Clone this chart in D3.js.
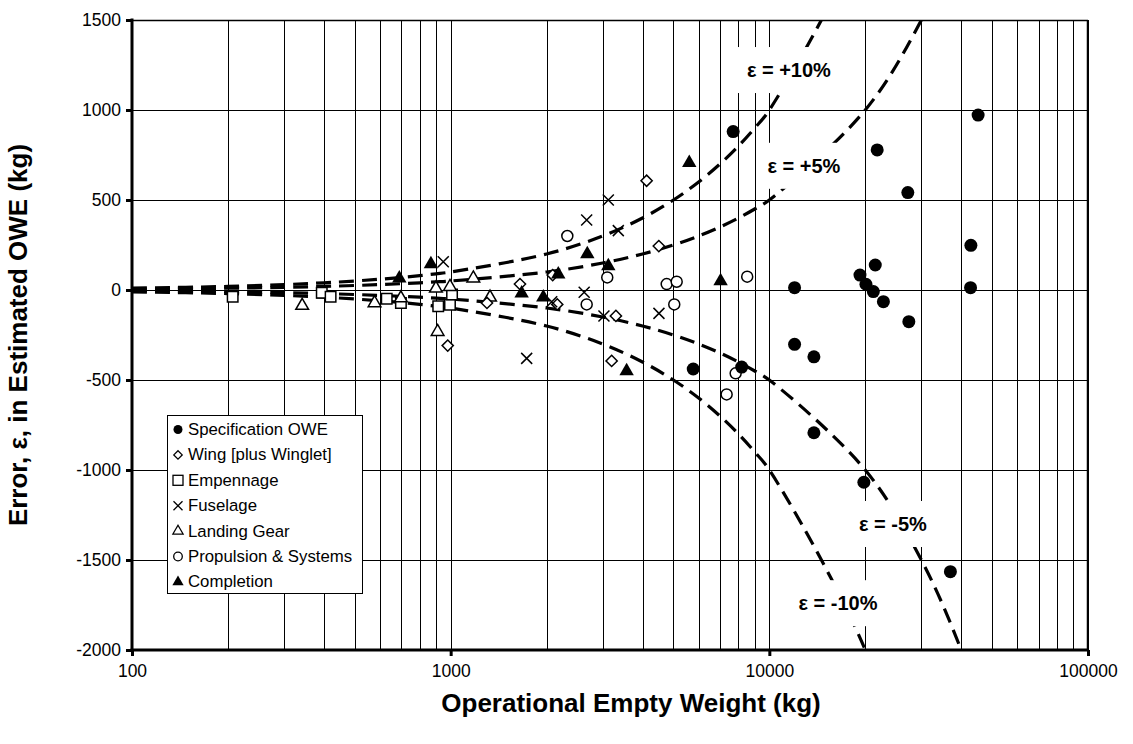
<!DOCTYPE html>
<html><head><meta charset="utf-8">
<script src="https://cdn.jsdelivr.net/npm/d3@7"></script>
<style>
body{margin:0;background:#fff;}
text{font-family:"Liberation Sans",Arial,Helvetica,sans-serif;}
</style></head>
<body><svg id="c" width="1133" height="744"></svg>
<script>
// ---- data ----
const xTicks = [100, 1000, 10000, 100000];
const xTickLabels = ["100", "1000", "10000", "100000"];
const yTicks = [-2000, -1500, -1000, -500, 0, 500, 1000, 1500];
const yTickLabels = ["-2000", "-1500", "-1000", "-500", "0", "500", "1000", "1500"];

const specOWE = [[7700,880],[21800,778],[27200,541],[45200,972],[42900,248],[21500,139],[19250,83],[20100,32],[21200,-9],[22800,-65],[27400,-176],[42800,13],[12000,13],[12000,-302],[13800,-371],[13800,-793],[19800,-1068],[37000,-1565],[5770,-439],[8190,-428]];
const wing = [[979,-309],[1300,-72],[1650,33],[2090,83],[2160,-80],[3300,-144],[3200,-394],[4120,607],[4500,244]];
const empennage = [[207,-37],[394,-15],[420,-37],[630,-48],[698,-72],[914,-90],[995,-82],[1010,-25]];
const fuselage = [[948,157],[1732,-380],[2075,-65],[2624,-13],[3027,-144],[3124,500],[2672,389],[3358,330],[4504,-130]];
const landingGear = [[342,-87],[577,-72],[698,-45],[899,9],[995,18],[910,-232],[1178,65],[1329,-41]];
const propulsion = [[2323,300],[2672,-80],[3100,70],[4763,33],[5120,46],[5031,-80],[8522,74],[7345,-580],[7840,-463]];
const completion = [[690,65],[867,144],[1670,-18],[1953,-41],[2176,87],[2684,200],[3124,133],[3566,-450],[5607,707],[7031,50]];

// guide lines: ε = p × OWE, evaluated at these OWE values (kg)
const guideOWE = [100,200,300,400,500,600,700,800,900,1000,2000,3000,4000,5000,6000,7000,8000,9000,10000,20000,30000,40000,50000];
const guideLevels = [10, 5, -5, -10];              // percent of OWE
const guideLabels = ["ε = +10%", "ε = +5%", "ε = -5%", "ε = -10%"];
const guideLabelAt = [[11520,1222],[12840,690],[24420,-1300],[16420,-1740]]; // label anchor (kg, kg)

const legendNames = ["Specification OWE","Wing [plus Winglet]","Empennage","Fuselage","Landing Gear","Propulsion & Systems","Completion"];

// ---- chart ----
const svg = d3.select("#c");
const L = 132, R = 1088, T = 20, B = 650;
const x = d3.scaleLog().domain([100, 100000]).range([L, R]);
const y = d3.scaleLinear().domain([-2000, 1500]).range([B, T]);

svg.append("defs").append("clipPath").attr("id","clip")
  .append("rect").attr("x",L).attr("y",T).attr("width",R-L).attr("height",B-T);

// grid
const minor = [];
for (let d = 100; d < 100000; d *= 10) for (let k = 1; k <= 9; k++) minor.push(d*k);
minor.push(100000);
svg.append("g").selectAll("line").data(minor.filter(v=>v>100)).join("line")
  .attr("x1",d=>Math.round(x(d))+0.5).attr("x2",d=>Math.round(x(d))+0.5)
  .attr("y1",T).attr("y2",B).attr("stroke","#000").attr("stroke-width",1);
svg.append("g").selectAll("line").data(yTicks).join("line")
  .attr("x1",L).attr("x2",R).attr("y1",d=>Math.round(y(d))+0.5).attr("y2",d=>Math.round(y(d))+0.5)
  .attr("stroke","#000").attr("stroke-width",1);

// guide curves
const gl = svg.append("g").attr("clip-path","url(#clip)");
guideLevels.forEach(p=>{
  const pts = guideOWE.map(v=>[v, v*p/100]);
  gl.append("path").datum(pts)
    .attr("d", d3.line().curve(d3.curveCatmullRom.alpha(0.5)).x(d=>x(d[0])).y(d=>y(d[1])))
    .attr("fill","none").attr("stroke","#000").attr("stroke-width",3.2)
    .attr("stroke-dasharray","15,8");
});

// guide labels with white boxes
guideLabels.forEach((t,i)=>{
  const cx = x(guideLabelAt[i][0]), cy = y(guideLabelAt[i][1]);
  const g = svg.append("g");
  const tx = g.append("text").attr("x",cx).attr("y",cy).attr("text-anchor","middle")
    .attr("dominant-baseline","central").attr("font-size",20).attr("font-weight","bold").text(t);
  const bb = tx.node().getBBox();
  g.insert("rect","text").attr("x",bb.x-9).attr("y",cy-23).attr("width",bb.width+18).attr("height",46).attr("fill","#fff");
});

// markers
const pg = svg.append("g");
function circle(data, fill, r){
  pg.append("g").selectAll("circle").data(data).join("circle")
    .attr("cx",d=>x(d[0])).attr("cy",d=>y(d[1])).attr("r",r)
    .attr("fill",fill?"#000":"#fff").attr("stroke","#000").attr("stroke-width",fill?0:1.5);
}
function sym(data, type, size, fill){
  pg.append("g").selectAll("path").data(data).join("path")
    .attr("transform",d=>`translate(${x(d[0])},${y(d[1])})`)
    .attr("d", d3.symbol().type(type).size(size)())
    .attr("fill",fill?"#000":"#fff").attr("stroke","#000").attr("stroke-width",fill?0:1.5);
}
circle(propulsion,false,5.5);
sym(empennage,d3.symbolSquare,110,false);
sym(landingGear,d3.symbolTriangle,70,false);
sym(wing,d3.symbolDiamond2,80,false);
pg.append("g").selectAll("path").data(fuselage).join("path")
  .attr("transform",d=>`translate(${x(d[0])},${y(d[1])})`)
  .attr("d","M-5.5,-5.5L5.5,5.5M-5.5,5.5L5.5,-5.5").attr("stroke","#000").attr("stroke-width",1.5).attr("fill","none");
sym(completion,d3.symbolTriangle,90,true);
circle(specOWE,true,6.5);

// axes frame
svg.append("line").attr("x1",L).attr("x2",R).attr("y1",T+0.5).attr("y2",T+0.5).attr("stroke","#000").attr("stroke-width",1.5);
svg.append("line").attr("x1",R-0.5).attr("x2",R-0.5).attr("y1",T).attr("y2",B).attr("stroke","#000").attr("stroke-width",1.5);
svg.append("line").attr("x1",L).attr("x2",L).attr("y1",T-1.5).attr("y2",B+1.5).attr("stroke","#000").attr("stroke-width",3);
svg.append("line").attr("x1",L-1.5).attr("x2",R).attr("y1",B).attr("y2",B).attr("stroke","#000").attr("stroke-width",3);

// y ticks
const yAxis = d3.axisLeft(y).tickValues(yTicks).tickSize(6).tickFormat((d,i)=>yTickLabels[i]);
const ya = svg.append("g").attr("transform",`translate(${L},0)`).call(yAxis);
ya.select(".domain").remove();
ya.selectAll(".tick line").attr("stroke","#000").attr("stroke-width",3);
ya.selectAll(".tick text").attr("font-size",17.5).attr("fill","#000").attr("x",-11)
  .style("font-family",'"Liberation Sans",Arial,sans-serif');

// x ticks
const xAxis = d3.axisBottom(x).tickValues(xTicks).tickSize(6).tickFormat((d,i)=>xTickLabels[i]);
const xa = svg.append("g").attr("transform",`translate(0,${B})`).call(xAxis);
xa.select(".domain").remove();
xa.selectAll(".tick line").attr("stroke","#000").attr("stroke-width",3);
xa.selectAll(".tick text").attr("font-size",17.5).attr("fill","#000").attr("y",15)
  .style("font-family",'"Liberation Sans",Arial,sans-serif');

// titles
svg.append("text").attr("x",631).attr("y",712).attr("text-anchor","middle")
  .attr("font-size",26).attr("font-weight","bold").text("Operational Empty Weight (kg)");
svg.append("text").attr("transform",`translate(27,${(T+B)/2}) rotate(-90)`).attr("text-anchor","middle")
  .attr("font-size",26).attr("font-weight","bold").text("Error, ε, in Estimated OWE (kg)");

// legend
const lg = svg.append("g");
lg.append("rect").attr("x",167.5).attr("y",415.5).attr("width",195).attr("height",178)
  .attr("fill","#fff").attr("stroke","#000").attr("stroke-width",1);
legendNames.forEach((n,i)=>{
  const cy = 429.5 + i*25.4, cx = 178;
  const g = lg.append("g").attr("transform",`translate(${cx},${cy})`);
  if(i===0) g.append("circle").attr("r",4.5).attr("fill","#000");
  if(i===1) g.append("path").attr("d",d3.symbol().type(d3.symbolDiamond2).size(45)()).attr("fill","#fff").attr("stroke","#000").attr("stroke-width",1.3);
  if(i===2) g.append("rect").attr("x",-5).attr("y",-5).attr("width",10).attr("height",10).attr("fill","#fff").attr("stroke","#000").attr("stroke-width",1.3);
  if(i===3) g.append("path").attr("d","M-4.5,-4.5L4.5,4.5M-4.5,4.5L4.5,-4.5").attr("stroke","#000").attr("stroke-width",1.3);
  if(i===4) g.append("path").attr("d",d3.symbol().type(d3.symbolTriangle).size(45)()).attr("fill","#fff").attr("stroke","#000").attr("stroke-width",1.3);
  if(i===5) g.append("circle").attr("r",4.3).attr("fill","#fff").attr("stroke","#000").attr("stroke-width",1.3);
  if(i===6) g.append("path").attr("d",d3.symbol().type(d3.symbolTriangle).size(55)()).attr("fill","#000");
  lg.append("text").attr("x",188).attr("y",cy).attr("dominant-baseline","central")
    .attr("font-size",16.8).text(n);
});
</script></body></html>
